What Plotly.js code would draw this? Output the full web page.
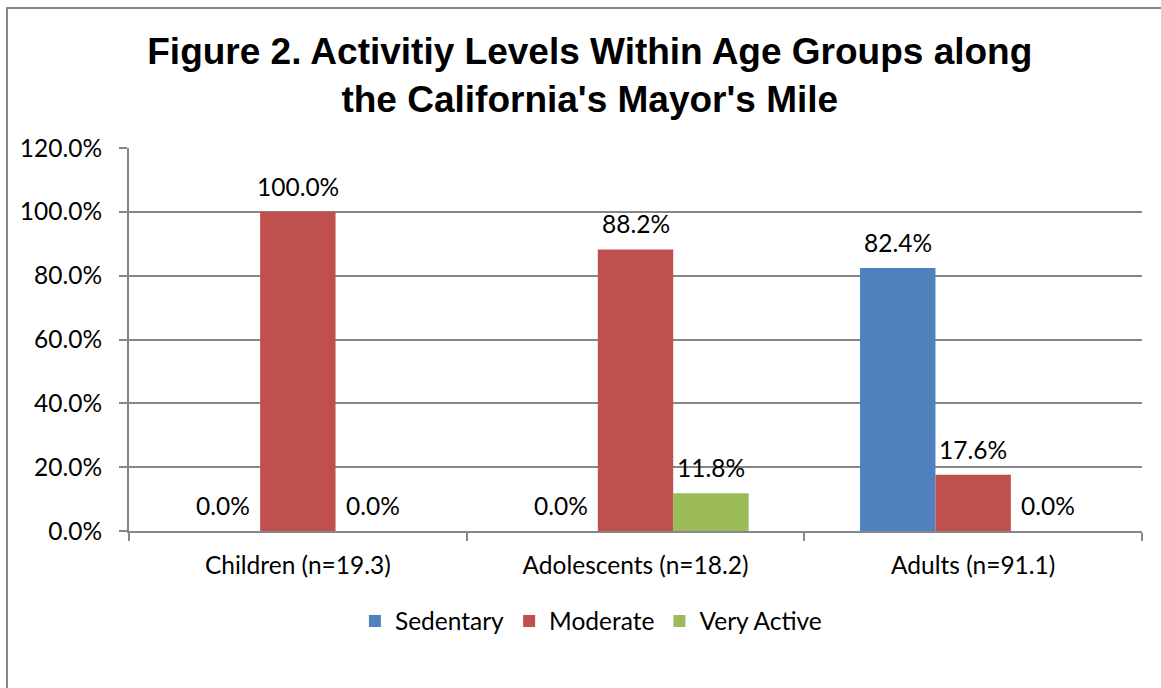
<!DOCTYPE html>
<html>
<head>
<meta charset="utf-8">
<script src="https://cdn.plot.ly/plotly-3.0.1.min.js"></script>
<style>
  html, body { margin: 0; padding: 0; background: #fff; overflow: hidden; }
  #frame { position: absolute; left: 6px; top: 7px; width: 2000px; height: 2000px; border: 2px solid #878787; box-sizing: border-box; }
  #chart { position: absolute; left: 0; top: 0; width: 1161px; height: 688px; }
</style>
</head>
<body>
<div id="frame"></div>
<div id="chart"></div>
<script>
const categories = ["Children (n=19.3)", "Adolescents (n=18.2)", "Adults (n=91.1)"];
const seriesNames = ["Sedentary", "Moderate", "Very Active"];
const sedentary = [0.0, 0.0, 82.4];
const moderate = [100.0, 88.2, 17.6];
const veryActive = [0.0, 11.8, 0.0];
const yTickVals = [0, 20, 40, 60, 80, 100, 120];
const yTickText = ["0.0%", "20.0%", "40.0%", "60.0%", "80.0%", "100.0%", "120.0%"];
const colors = ["#4F81BD", "#C0504D", "#9BBB59"];

const labelFont = { family: "Lato, 'Open Sans', sans-serif", size: 24.5, color: "#000" };
const allSeries = [sedentary, moderate, veryActive];

const traces = allSeries.map((vals, i) => ({
  type: "bar",
  name: seriesNames[i],
  x: categories,
  y: vals,
  marker: { color: colors[i] },
  hoverinfo: "skip"
}));

// data labels above each bar, placed with the axis scales
const barPx = 75; // pixel width of one bar in the group (style)
const annotations = [];
allSeries.forEach((vals, i) => {
  vals.forEach((v, j) => {
    annotations.push({
      x: categories[j], y: v, xref: "x", yref: "y",
      text: v.toFixed(1) + "%",
      showarrow: false,
      xanchor: "center", yanchor: "bottom",
      xshift: (i - 1) * barPx,
      yshift: 9,
      font: labelFont
    });
  });
});

const layout = {
  width: 1161,
  height: 688,
  paper_bgcolor: "rgba(0,0,0,0)",
  plot_bgcolor: "rgba(0,0,0,0)",
  margin: { l: 129, r: 19, t: 148, b: 157 },
  title: {
    text: "Figure 2. Activitiy Levels Within Age Groups along<br>the California's Mayor's Mile",
    font: { family: "'Liberation Sans', Arial, sans-serif", size: 37, color: "#000", weight: "bold" },
    x: 0.508, xanchor: "center", y: 0.907, yanchor: "top"
  },
  barmode: "group",
  bargap: 0.33,
  bargroupgap: 0,
  showlegend: true,
  legend: {
    orientation: "h",
    x: 0.456, xanchor: "center",
    y: -0.235, yanchor: "middle",
    font: labelFont,
    traceorder: "normal",
    itemwidth: 30
  },
  annotations: annotations,
  xaxis: {
    type: "category",
    showline: true, linecolor: "#868686", linewidth: 2,
    ticks: "outside", tickson: "boundaries", ticklen: 8, tickcolor: "#868686", tickwidth: 2,
    tickfont: labelFont,
    ticklabelstandoff: 12,
    showgrid: false
  },
  yaxis: {
    range: [0, 120],
    tickvals: yTickVals,
    ticktext: yTickText,
    showline: true, linecolor: "#868686", linewidth: 2,
    ticks: "outside", ticklen: 8, tickcolor: "#868686", tickwidth: 2,
    showgrid: true, gridcolor: "#868686", gridwidth: 2,
    zeroline: false,
    tickfont: labelFont,
    ticklabelstandoff: 12
  }
};

Plotly.newPlot("chart", traces, layout, { displayModeBar: false, staticPlot: true });
</script>
</body>
</html>
